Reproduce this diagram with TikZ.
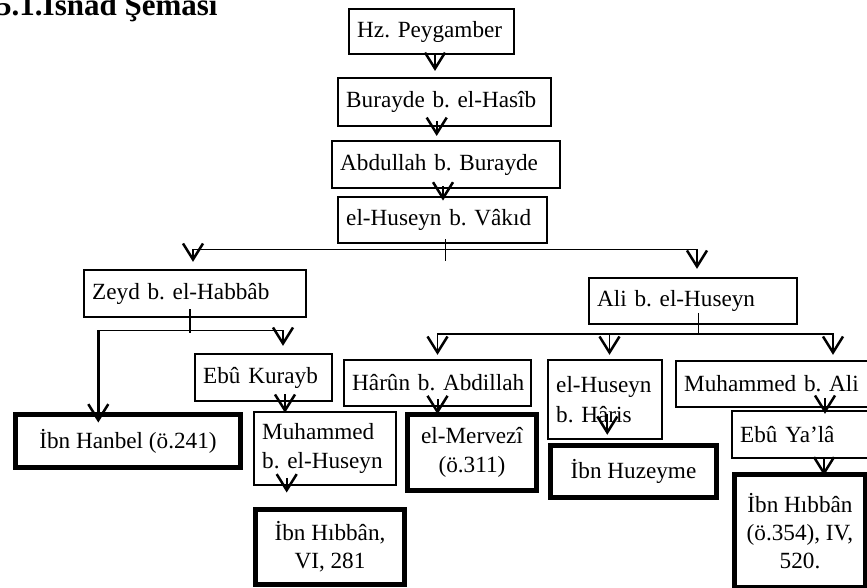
\documentclass[tikz,border=0pt]{standalone}
\usepackage{fontspec}
\setmainfont{Liberation Serif}
\usetikzlibrary{arrows.meta}
\frenchspacing
\hyphenpenalty=10000
\exhyphenpenalty=10000

\begin{document}
\begin{tikzpicture}[x=0.5pt,y=-0.5pt,
  ravi/.style={draw, line width=1.15pt, inner xsep=4pt, inner ysep=2pt, align=left, font=\fontsize{11.6}{14.8}\selectfont},
  kaynak/.style={draw, line width=2.5pt, align=center, font=\fontsize{11.6}{14.2}\selectfont},
  ok/.style={line width=1pt, -{Straight Barb[length=8pt,width=10pt,line width=1.25pt]}},
  fork/.style={line width=0.65pt}]
\useasboundingbox (0,0) rectangle (867,588);

\node[anchor=base east, inner sep=0pt, font=\fontsize{15.5}{18}\selectfont\bfseries] (baslik) at (218,16) {5.1.İsnad Şeması};

% ravi zinciri
\node[ravi, text width=74.3pt, minimum height=22.4pt] (peygamber) at (431.5,31.5) {Hz. Peygamber};
\node[ravi, text width=98.3pt, minimum height=23.9pt] (burayde) at (444.5,102) {Burayde b. el-Hasîb};
\node[ravi, text width=105.8pt, minimum height=23.4pt] (abdullah) at (446,164.5) {Abdullah b. Burayde};
\node[ravi, text width=96.3pt, minimum height=22.9pt] (vakid) at (442.5,220) {el-Huseyn b. Vâkıd};
\node[ravi, text width=102.8pt, minimum height=23.4pt] (zeyd) at (195,293.5) {Zeyd b. el-Habbâb};
\node[ravi, text width=95.8pt, minimum height=22.9pt] (ali) at (693,301) {Ali b. el-Huseyn};
\node[ravi, text width=60.3pt, minimum height=23.4pt] (kurayb) at (263.5,377.5) {Ebû Kurayb};
\node[ravi, text width=85.3pt, minimum height=22.9pt] (harun) at (437.5,383) {Hârûn~b.~Abdillah};
\node[ravi, text width=48.8pt, minimum height=39.4pt] (haris) at (605,399.5) {el-Huseyn\\b. Hâris};
\node[ravi, text width=88.3pt, minimum height=22.9pt] (muhali) at (772.5,384) {Muhammed~b.~Ali};
\node[ravi, text width=62.8pt, minimum height=36.4pt] (muhhuseyn) at (325,448.5) {Muhammed\\b. el-Huseyn};
\node[ravi, text width=60.3pt, minimum height=23.4pt] (yala) at (800.5,434.5) {Ebû Ya’lâ};

% kaynaklar
\node[kaynak, minimum width=112.5pt, minimum height=26.5pt] (hanbel) at (128,441) {İbn Hanbel (ö.241)};
\node[kaynak, minimum width=74.5pt, minimum height=37.5pt] (hibbanA) at (330,547) {İbn Hıbbân,\\VI, 281};
\node[kaynak, minimum width=64.5pt, minimum height=38pt] (mervezi) at (472,452.5) {el-Mervezî\\(ö.311)};
\node[kaynak, minimum width=83pt, minimum height=26pt] (huzeyme) at (633.5,471.5) {İbn Huzeyme};
\node[kaynak, minimum width=65.5pt, minimum height=56.5pt] (hibbanB) at (800,531) {İbn Hıbbân\\(ö.354), IV,\\520.};

% zincir oklari
\draw[ok, shorten >=3pt] ([xshift=1.75pt,yshift=1pt]peygamber.south) -- ([xshift=1.75pt]peygamber.south |- burayde.north);
\draw[ok, shorten >=2pt] ([xshift=-3.9pt,yshift=3pt]burayde.south) -- ([xshift=-3.9pt]burayde.south |- abdullah.north);
\draw[ok, shorten >=-2.3pt] ([xshift=-1.5pt,yshift=1.5pt]abdullah.south) -- ([xshift=-1.5pt]abdullah.south |- vakid.north);

% el-Huseyn b. Vakid ayrimi
\coordinate (vk) at ([xshift=1.6pt,yshift=-2.7pt]vakid.south);
\draw[fork] ([xshift=1.6pt,yshift=2.45pt]vakid.south) -- ([xshift=1.6pt,yshift=-8.55pt]vakid.south);
\draw[ok, fork] (vk) -| ([xshift=-1pt,yshift=3.55pt]zeyd.north);
\draw[ok, fork] (vk) -| ([xshift=2pt,yshift=4.05pt]ali.north);

% Zeyd ayrimi
\coordinate (zy) at ([xshift=-2.5pt,yshift=-6.2pt]zeyd.south);
\coordinate (hb) at ([xshift=-14.85pt,yshift=-5.25pt]hanbel.north);
\draw[fork] ([xshift=-2.5pt,yshift=4.45pt]zeyd.south) -- ([xshift=-2.5pt,yshift=-7.4pt]zeyd.south);
\draw[fork] (zy) -- (zy -| hb);
\draw[ok, line width=1.3pt] (zy -| hb) -- (hb);
\draw[ok, fork] (zy) -| ([xshift=9.75pt,yshift=3.55pt]kurayb.north);

% Ali ayrimi
\coordinate (ak) at ([xshift=2.65pt,yshift=-4.4pt]ali.south);
\draw[fork] ([xshift=2.65pt,yshift=6.1pt]ali.south) -- (ak);
\draw[ok, fork] (ak) -| ([yshift=2.05pt]harun.north);
\draw[ok, fork] ([xshift=2.25pt]haris.north |- ak) -- ([xshift=2.25pt,yshift=2.05pt]haris.north);
\draw[ok, fork] (ak) -| ([xshift=30.25pt,yshift=2.55pt]muhali.north);

% alt oklar
\draw[ok, shorten >=-0.95pt] ([xshift=10.75pt,yshift=3.95pt]kurayb.south) -- ([xshift=10.75pt]kurayb.south |- muhhuseyn.north);
\draw[ok, shorten >=7.25pt] ([xshift=-19.15pt,yshift=4.1pt]muhhuseyn.south) -- ([xshift=-19.15pt]muhhuseyn.south |- hibbanA.north);
\draw[ok, shorten >=-1.1pt] ([yshift=3.95pt]harun.south) -- (harun.south |- mervezi.north);
\draw[ok, shorten >=4.1pt] ([xshift=1.15pt,yshift=12.95pt]haris.south) -- ([xshift=1.15pt]haris.south |- huzeyme.north);
\draw[ok, shorten >=-1.95pt] ([xshift=26.25pt,yshift=5.1pt]muhali.south) -- ([xshift=26.25pt]muhali.south |- yala.north);
\draw[ok, shorten >=-1.75pt] ([xshift=11.75pt,yshift=1pt]yala.south) -- ([xshift=11.75pt]yala.south |- hibbanB.north);
\end{tikzpicture}
\end{document}
